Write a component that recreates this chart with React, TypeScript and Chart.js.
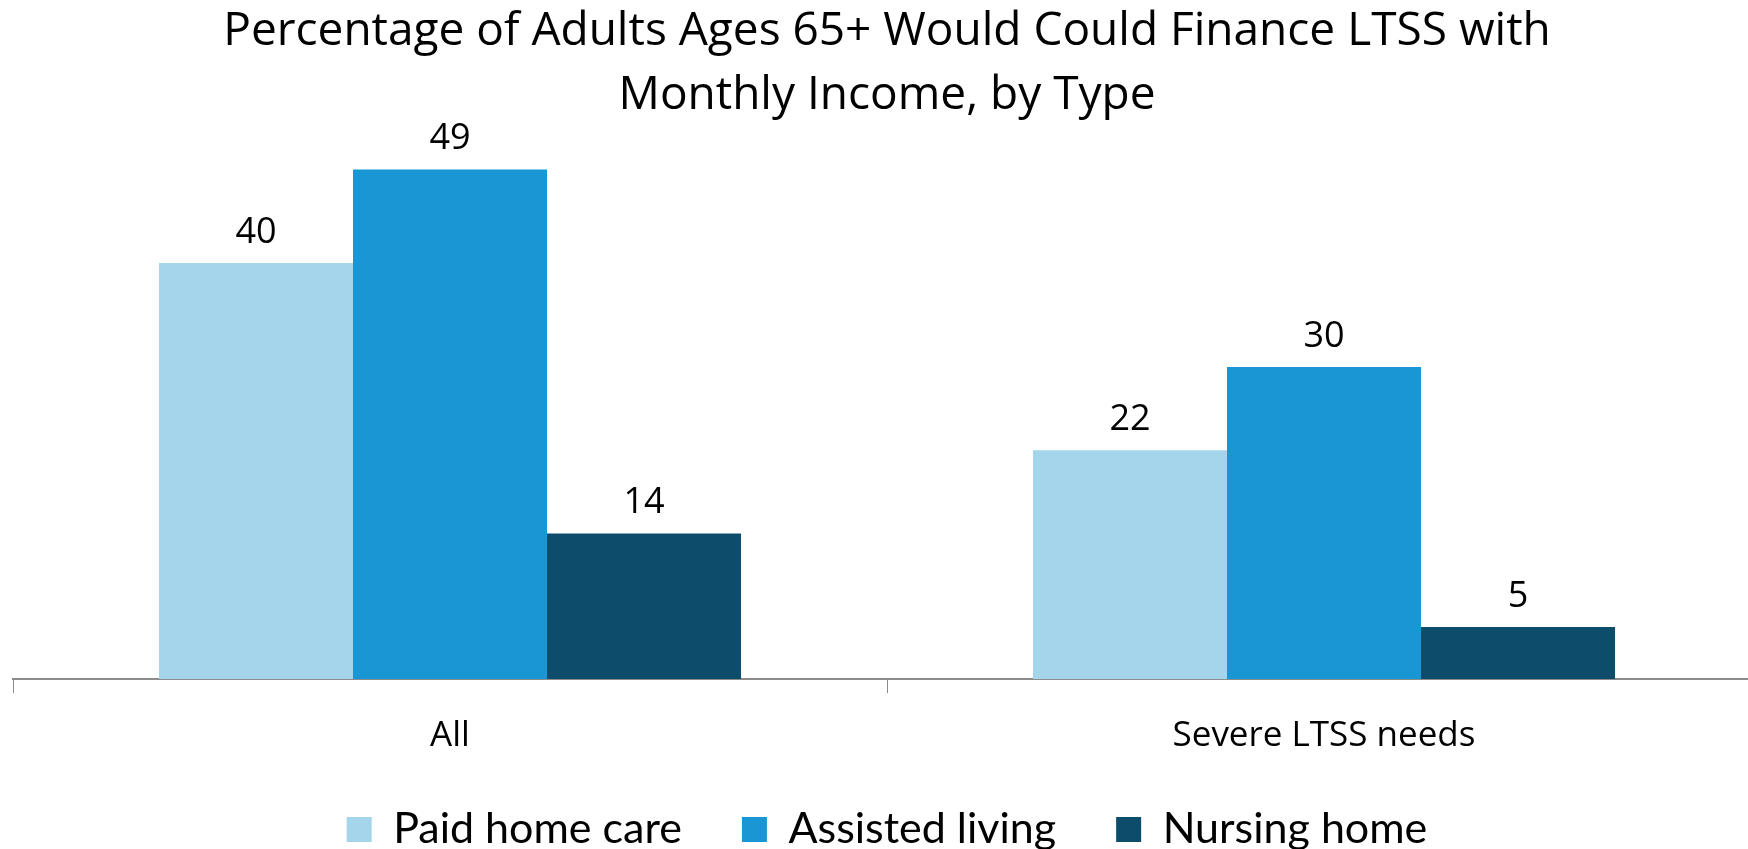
import React, { useEffect, useRef } from "react";
import { Chart, registerables } from "chart.js";

Chart.register(...registerables);

const categories = ["All", "Severe LTSS needs"];
const seriesNames = ["Paid home care", "Assisted living", "Nursing home"];
const paidHomeCare = [40, 22];
const assistedLiving = [49, 30];
const nursingHome = [14, 5];
const seriesColors = ["#A4D5EB", "#1996D4", "#0D4D6B"];
const titleLines = [
  "Percentage of Adults Ages 65+ Would Could Finance LTSS with",
  "Monthly Income, by Type",
];
const yMax = 50;

const valueLabels = {
  id: "valueLabels",
  afterDatasetsDraw(chart: any) {
    const ctx = chart.ctx;
    ctx.save();
    ctx.font = "36px 'Open Sans'";
    ctx.fillStyle = "#000000";
    ctx.textAlign = "center";
    ctx.textBaseline = "alphabetic";
    chart.data.datasets.forEach((ds: any, i: number) => {
      const meta = chart.getDatasetMeta(i);
      meta.data.forEach((bar: any, j: number) => {
        ctx.fillText(String(ds.data[j]), bar.x, bar.y - 20);
      });
    });
    ctx.restore();
  },
};

export default function App() {
  const ref = useRef<HTMLCanvasElement | null>(null);

  useEffect(() => {
    document.body.style.margin = "0";
    const canvas = ref.current;
    if (!canvas) return;
    const allSeries = [paidHomeCare, assistedLiving, nursingHome];
    const chart = new Chart(canvas, {
      type: "bar",
      data: {
        labels: categories,
        datasets: seriesNames.map((name, i) => ({
          label: name,
          data: allSeries[i],
          backgroundColor: seriesColors[i],
          borderWidth: 0,
          barPercentage: 1,
          categoryPercentage: 0.666,
        })),
      },
      options: {
        responsive: false,
        animation: false,
        devicePixelRatio: 1,
        layout: { padding: { left: 13, right: 13, top: 0, bottom: 0 } },
        plugins: {
          title: {
            display: true,
            text: titleLines,
            color: "#000000",
            font: { family: "'Open Sans'", size: 46, weight: "normal", lineHeight: "64px" },
            padding: { top: 0, bottom: 31 },
          },
          legend: {
            display: true,
            position: "bottom",
            labels: {
              boxWidth: 25,
              boxHeight: 25,
              padding: 60,
              color: "#000000",
              font: { family: "Lato", size: 43, lineHeight: 1.0 },
            },
          },
          tooltip: { enabled: false },
        },
        scales: {
          x: {
            afterFit: (scale: any) => {
              scale.height = 69;
            },
            grid: {
              display: true,
              drawOnChartArea: false,
              drawTicks: true,
              tickLength: 14,
              color: "#8c8c8c",
              lineWidth: 1,
              offset: true,
            },
            border: { display: true, color: "#8c8c8c", width: 2 },
            ticks: {
              color: "#000000",
              padding: 22,
              font: { family: "'Open Sans'", size: 35 },
            },
          },
          y: {
            display: false,
            min: 0,
            max: yMax,
            grid: { display: false },
          },
        },
      },
      plugins: [valueLabels],
    } as any);
    return () => chart.destroy();
  }, []);

  return (
    <div style={{ position: "absolute", left: 0, top: 0, width: 1748, height: 849, overflow: "hidden", background: "#ffffff" }}>
      <canvas ref={ref} width={1774} height={861} style={{ width: 1774, height: 861, display: "block" }} />
    </div>
  );
}
